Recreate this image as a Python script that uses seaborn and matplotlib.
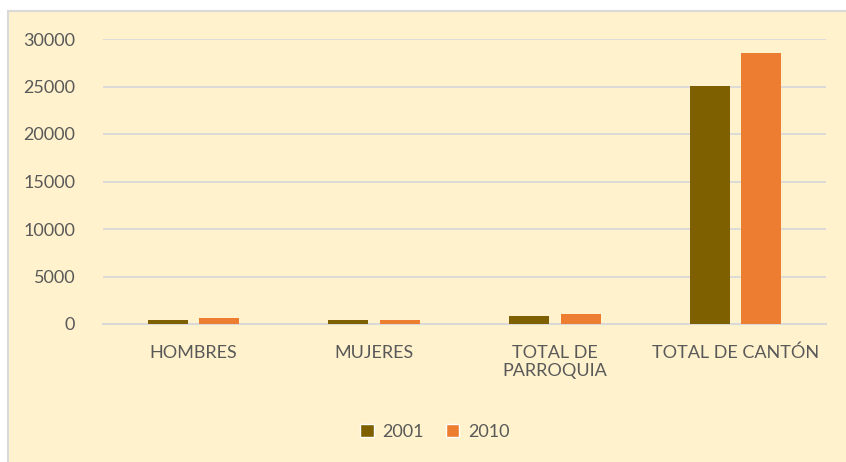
import pandas as pd
import matplotlib.pyplot as plt
import seaborn as sns
from matplotlib.patches import Rectangle, Patch

# data
categories = ['HOMBRES', 'MUJERES', 'TOTAL DE\nPARROQUIA', 'TOTAL DE CANTÓN']
pop_2001 = [390, 370, 800, 25080]
pop_2010 = [600, 470, 1050, 28480]
years = ['2001', '2010']
yticks = [0, 5000, 10000, 15000, 20000, 25000, 30000]

df = pd.DataFrame({
    'categoria': categories * 2,
    'anio': [years[0]] * 4 + [years[1]] * 4,
    'poblacion': pop_2001 + pop_2010,
})

cream = '#FFF2CC'
grid_c = '#D9D9D9'
text_c = '#595959'
colors = {'2001': '#7F6000', '2010': '#ED7D31'}

sns.set_style('white')
plt.rcParams['font.family'] = ['Lato', 'DejaVu Sans']

fig = plt.figure(figsize=(8.46, 4.62), dpi=100, facecolor='white')
# chart area background with thin grey frame (behind the axes)
fig.patches.append(Rectangle((8 / 846, -0.01), 1.0, (462 - 11) / 462 + 0.01,
                             transform=fig.transFigure, facecolor=cream,
                             edgecolor=grid_c, linewidth=1.5, zorder=-10))

ax = fig.add_axes([103 / 846, (462 - 324) / 462, (826 - 103) / 846, (324 - 39) / 462])
ax.set_facecolor('none')

sns.barplot(data=df, x='categoria', y='poblacion', hue='anio', palette=colors,
            saturation=1, width=0.57, gap=0.22, linewidth=0, ax=ax,
            legend=False, zorder=3)

ax.set_ylim(0, 30000)
ax.set_yticks(yticks)
ax.set_yticklabels([str(v) for v in yticks])
ax.yaxis.grid(True, color=grid_c, linewidth=1.3, zorder=0)
ax.set_axisbelow(True)
for s in ['top', 'right', 'left']:
    ax.spines[s].set_visible(False)
ax.spines['bottom'].set_color(grid_c)
ax.spines['bottom'].set_linewidth(1.5)
ax.tick_params(axis='both', length=0, labelsize=13, colors=text_c)
ax.tick_params(axis='y', pad=20)
ax.tick_params(axis='x', pad=15)
ax.set_xlabel('')
ax.set_ylabel('')

handles = [Patch(facecolor=colors[y], label=y) for y in years]
fig.legend(handles=handles, loc='center', bbox_to_anchor=(435 / 846, 1 - 432 / 462),
           ncol=2, frameon=False, fontsize=13, labelcolor=text_c,
           handlelength=0.75, handleheight=0.75, handletextpad=0.5, columnspacing=1.2)

fig.savefig('out.png', dpi=100, facecolor=fig.get_facecolor())
